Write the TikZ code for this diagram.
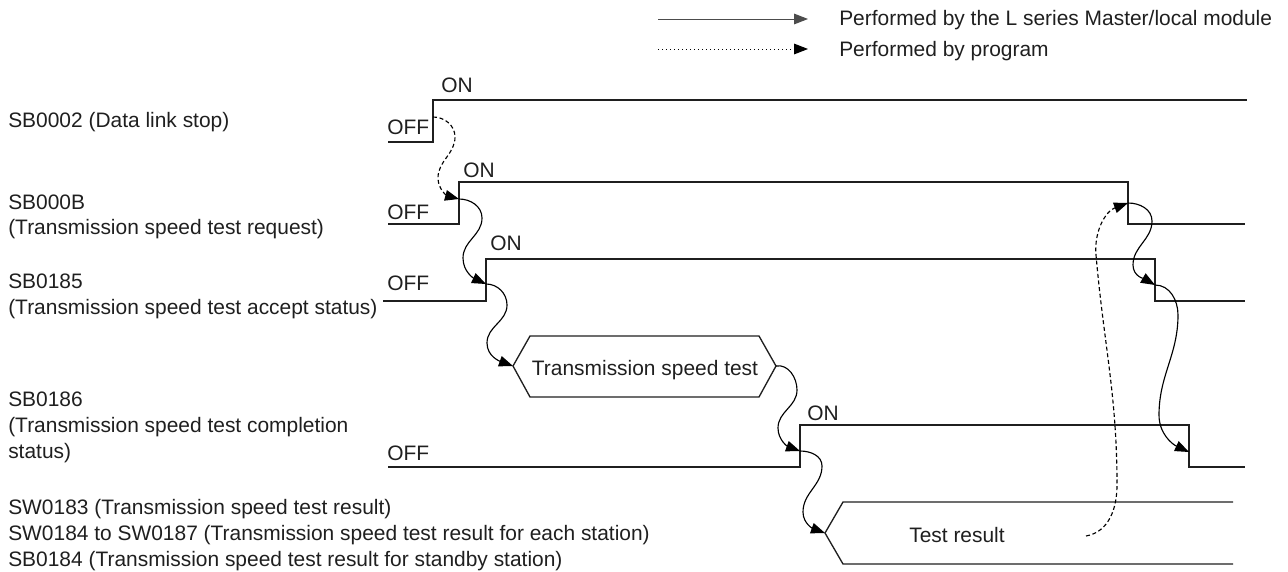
\documentclass[tikz,border=0pt]{standalone}
\usepackage{fontspec}
\setmainfont{Liberation Sans}
\usetikzlibrary{arrows.meta}
\begin{document}
\begin{tikzpicture}[x=0.75pt,y=-0.75pt,
  txt/.style={font=\fontsize{15.7}{18}\selectfont, text=black!88, anchor=base west, inner sep=0pt},
  ctxt/.style={font=\fontsize{15.7}{18}\selectfont, text=black!88, anchor=base, inner sep=0pt},
  sig/.style={line width=1pt, draw=black!88},
  tipA/.style={-{Triangle[length=10.5pt,width=8pt]}},
  hwconn/.style={tipA, line width=0.85pt, draw=black},
  progconn/.style={tipA, line width=0.85pt, draw=black, dash pattern=on 3pt off 2pt},
]
\useasboundingbox (0,0) rectangle (1288,571);

% legend
\coordinate (l1a) at (658,19);
\coordinate (l1b) at (808,19);
\coordinate (l2a) at (658,49);
\coordinate (l2b) at (808,49);
\draw[tipA, line width=0.75pt, draw=black!70] (l1a) -- (l1b);
\draw[tipA, line width=0.75pt, draw=black, dash pattern=on 0.8pt off 2.2pt] (l2a) -- (l2b);
\node[txt] (leg1) at (839,26) {Performed by the L series Master/local module};
\node[txt] (leg2) at (839,56) {Performed by program};

% signal names
\node[txt] (n1) at (8,127) {SB0002 (Data link stop)};
\node[txt] (n2a) at (8,209) {SB000B};
\node[txt] (n2b) at (8,234) {(Transmission speed test request)};
\node[txt] (n3a) at (8,288) {SB0185};
\node[txt] (n3b) at (8,314) {(Transmission speed test accept status)};
\node[txt] (n4a) at (8,406) {SB0186};
\node[txt] (n4b) at (8,432) {(Transmission speed test completion};
\node[txt] (n4c) at (8,458) {status)};
\node[txt] (n5a) at (8,514) {SW0183 (Transmission speed test result)};
\node[txt] (n5b) at (8,540) {SW0184 to SW0187 (Transmission speed test result for each station)};
\node[txt] (n5c) at (8,566) {SB0184 (Transmission speed test result for standby station)};

% ON / OFF
\node[txt] (on1) at (441,92) {ON};
\node[txt] (off1) at (387,134) {OFF};
\node[txt] (on2) at (463,177) {ON};
\node[txt] (off2) at (387,219) {OFF};
\node[txt] (on3) at (490,250) {ON};
\node[txt] (off3) at (387,290) {OFF};
\node[txt] (on4) at (807,420) {ON};
\node[txt] (off4) at (387,460) {OFF};

% signals
\draw[sig] (388,142) -- (433,142) -- (433,100) -- (1247,100);
\draw[sig] (388,224) -- (459,224) -- (459,182) -- (1128,182) -- (1128,224) -- (1245,224);
\draw[sig] (383,301) -- (486,301) -- (486,259) -- (1155,259) -- (1155,301) -- (1245,301);
\draw[sig] (388,467) -- (800,467) -- (800,425) -- (1189,425) -- (1189,467) -- (1245,467);

% hexagon
\coordinate (hexL) at (513,366);
\coordinate (hexR) at (776,366);
\draw[sig] (hexL) -- (530,336) -- (759,336) -- (hexR) -- (759,397) -- (530,397) -- cycle;
\node[ctxt] (hext) at (645,375) {Transmission speed test};

% test result bus
\coordinate (busL) at (825,533);
\draw[sig] (1233,502) -- (843,502) -- (busL) -- (843,564) -- (1233,564);
\node[ctxt] (trt) at (957,542) {Test result};

% connector points
\coordinate (c02r) at (433,117);
\coordinate (c0Br) at (459,199);
\coordinate (c85r) at (486,284);
\coordinate (c86r) at (800,451);
\coordinate (trR) at (1086,536);
\coordinate (c0Bf) at (1128,203);
\coordinate (c85f) at (1155,285);
\coordinate (c86f) at (1189,452);

% connectors
\draw[progconn] (c02r) to[out=0,in=90] (455,137) to[out=-90,in=90] (438,178) to[out=-90,in=165] (c0Br);
\draw[hwconn] (c0Br) to[out=0,in=90] (482,218) to[out=-90,in=90] (463,258) to[out=-90,in=155] (c85r);
\draw[hwconn] (c85r) to[out=0,in=90] (507,305) to[out=-90,in=90] (487,343) to[out=-90,in=160] (hexL);
\draw[hwconn] (hexR) to[out=10,in=90] (797,390) to[out=-90,in=90] (778,428) to[out=-90,in=160] (c86r);
\draw[hwconn] (c86r) to[out=0,in=90] (822,466) to[out=-90,in=90] (803,512) to[out=-90,in=160] (busL);
\draw[progconn] (trR) to[out=10,in=-90] (1117,485) to[out=90,in=-85] (1096,255) to[out=95,in=200] (c0Bf);
\draw[hwconn] (c0Bf) to[out=0,in=90] (1152,221) to[out=-90,in=90] (1133,265) to[out=-90,in=150] (c85f);
\draw[hwconn] (c85f) to[out=0,in=90] (1178,315) to[out=-90,in=90] (1159,415) to[out=-90,in=155] (c86f);
\end{tikzpicture}
\end{document}
